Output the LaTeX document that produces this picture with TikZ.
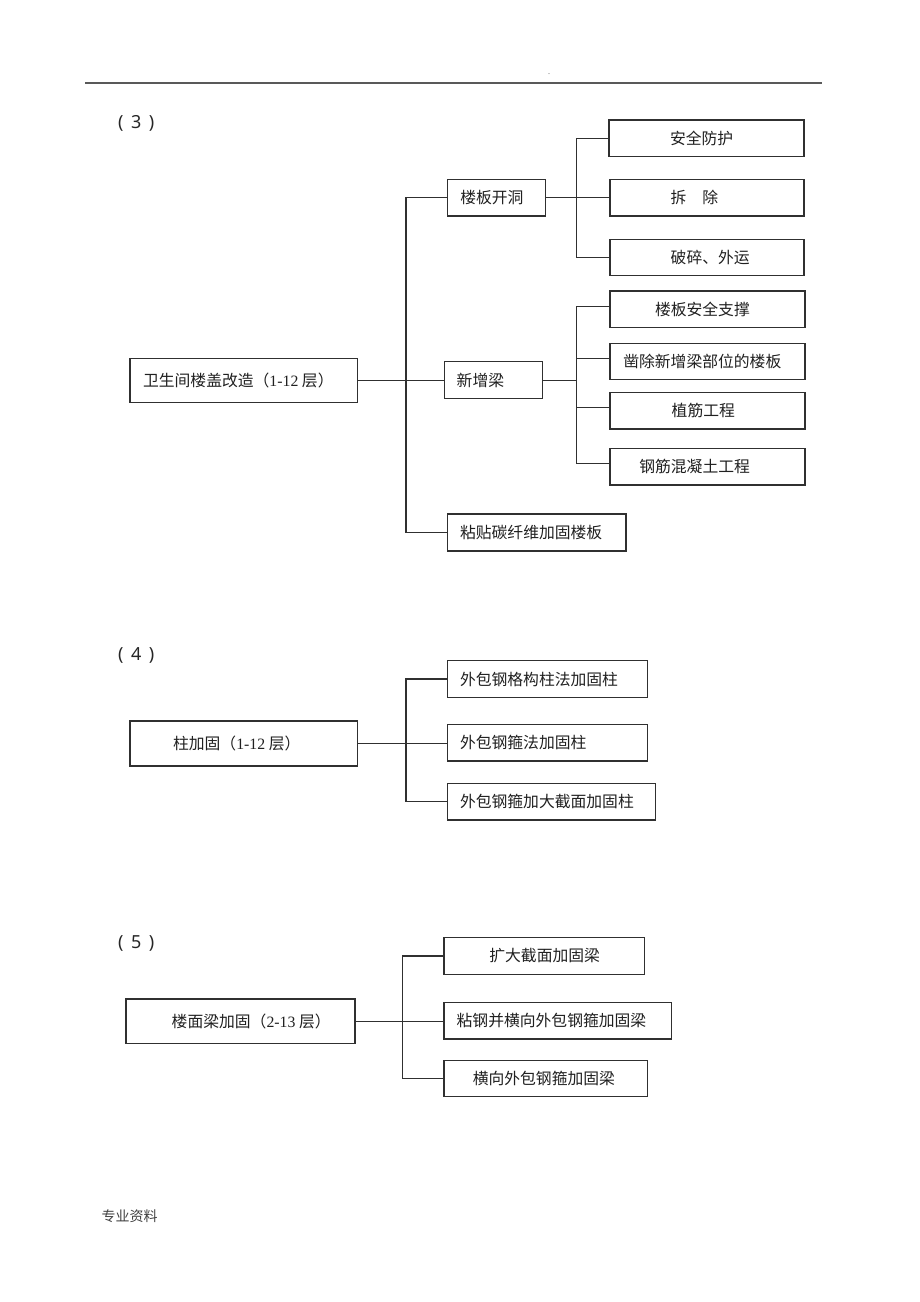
\documentclass[tikz,border=0pt]{standalone}
\usepackage{fontspec}
\setmainfont{Liberation Serif}
\newfontfamily\cjk{Noto Sans CJK SC}
\newfontfamily\lblfont{Noto Sans}
\definecolor{ln}{HTML}{303030}
\definecolor{tx}{HTML}{202020}
\newcommand\bt[3]{\makebox[#1pt][l]{\hspace*{#2pt}#3}}
\newcommand\seclbl[1]{(\hspace*{7.5pt}#1\hspace*{7.5pt})}
\begin{document}
\begin{tikzpicture}[x=1pt,y=-1pt,
  box/.style={draw=ln, line width=1.4pt, inner sep=0pt, text=tx, font=\fontsize{15.8}{18}\selectfont\cjk},
  conn/.style={draw=ln, line width=1.2pt},
  sec/.style={text=black!85, font=\fontsize{18}{20}\selectfont\lblfont, inner sep=0pt, anchor=west},
]
\useasboundingbox[fill=white] (0,0) rectangle (920,1302);

% header and footer
\coordinate (h1) at (85,83.3);
\coordinate (h2) at (822,83.3);
\draw[line width=1.8pt, draw=black!65] (h1) -- (h2);
\node[font=\fontsize{8}{8}\selectfont, text=black!70, inner sep=0pt] (dot) at (549,74) {.};
\node[font=\fontsize{14}{16}\selectfont\cjk, text=black!75, anchor=west, inner sep=0pt] (ft) at (101.5,1216) {专业资料};

% section labels
\node[sec] (l3) at (118,123.3) {\seclbl{3}};
\node[sec] (l4) at (118,655) {\seclbl{4}};
\node[sec] (l5) at (118,943) {\seclbl{5}};

% ---------- section 3 ----------
\node[box, minimum height=44.4pt] (root3) at (243.7,380.5) {\bt{227.3}{13}{\raisebox{2pt}{卫生间楼盖改造（{\rmfamily 1-12} 层）}}};
\node[box, minimum height=36.7pt] (kd)  at (496.3,197.7) {\bt{98}{13}{楼板开洞}};
\node[box, minimum height=37pt]   (xzl) at (493.3,380.2) {\bt{98}{12.4}{新增梁}};
\node[box, minimum height=37pt]   (tx)  at (536.9,532.5) {\bt{178.3}{12.3}{粘贴碳纤维加固楼板}};

\node[box, minimum height=36.3pt] (aq)  at (706.5,138.2) {\bt{195}{61}{安全防护}};
\node[box, minimum height=36.7pt] (cc)  at (707,197.7)   {\bt{194}{60.7}{拆　除}};
\node[box, minimum height=36pt]   (ps)  at (707,257.3)   {\bt{194}{60.7}{破碎、外运}};
\node[box, minimum height=36.7pt] (zc)  at (707.5,309.3) {\bt{195}{45}{楼板安全支撑}};
\node[box, minimum height=36pt]   (zc2) at (707.5,361.3) {\bt{195}{13.3}{凿除新增梁部位的楼板}};
\node[box, minimum height=36.3pt] (zj)  at (707.5,410.8) {\bt{195}{61.7}{植筋工程}};
\node[box, minimum height=36.7pt] (gj)  at (707.5,466.7) {\bt{195}{29.3}{钢筋混凝土工程}};

\coordinate (t3) at (406,0);
\coordinate (s1) at (576.7,0);
\coordinate (s2) at (576.7,0);
\draw[conn] (root3.east) -- (root3.east -| xzl.west);
\draw[conn] (kd.west) -- (kd.west -| t3) -- (tx.west -| t3) -- (tx.west);
\draw[conn] (kd.east) -- (cc.west);
\draw[conn] (aq.west) -- (aq.west -| s1) -- (ps.west -| s1) -- (ps.west);

\coordinate (zcw)  at ([yshift=2.7pt]zc.west);
\coordinate (zc2w) at ([yshift=3pt]zc2.west);
\coordinate (zjw)  at ([yshift=3pt]zj.west);
\coordinate (gjw)  at ([yshift=3.3pt]gj.west);
\draw[conn] (xzl.east) -- (xzl.east -| s2);
\draw[conn] (zcw) -- (zcw -| s2) -- (gjw -| s2) -- (gjw);
\draw[conn] (zc2w) -- (zc2w -| s2);
\draw[conn] (zjw) -- (zjw -| s2);

% ---------- section 4 ----------
\node[box, minimum height=45pt]   (root4) at (243.7,743.5) {\bt{227.3}{43}{柱加固（{\rmfamily 1-12} 层）}};
\node[box, minimum height=36.6pt] (c4a) at (547.3,679)   {\bt{200}{12.7}{外包钢格构柱法加固柱}};
\node[box, minimum height=36.7pt] (c4b) at (547.3,742.8) {\bt{200}{12.7}{外包钢箍法加固柱}};
\node[box, minimum height=36.7pt] (c4c) at (551.5,801.7) {\bt{208.4}{12.7}{外包钢箍加大截面加固柱}};

\coordinate (t4) at (406,0);
\draw[conn] (root4.east) -- (root4.east -| c4b.west);
\draw[conn] (c4a.west) -- (c4a.west -| t4) -- (c4c.west -| t4) -- (c4c.west);

% ---------- section 5 ----------
\node[box, minimum height=44.3pt] (root5) at (240.5,1021.2) {\bt{229}{45.7}{楼面梁加固（{\rmfamily 2-13} 层）}};
\node[box, minimum height=36.6pt] (c5a) at (544.2,956)    {\bt{200.3}{45.3}{扩大截面加固梁}};
\node[box, minimum height=36.6pt] (c5b) at (557.8,1020.5) {\bt{227.7}{12.7}{粘钢并横向外包钢箍加固梁}};
\node[box, minimum height=36pt]   (c5c) at (545.7,1078.7) {\bt{203.3}{28.7}{横向外包钢箍加固梁}};

\coordinate (t5) at (402.7,0);
\draw[conn] (root5.east) -- (root5.east -| c5b.west);
\draw[conn] (c5a.west) -- (c5a.west -| t5) -- (c5c.west -| t5) -- (c5c.west);
\end{tikzpicture}
\end{document}
